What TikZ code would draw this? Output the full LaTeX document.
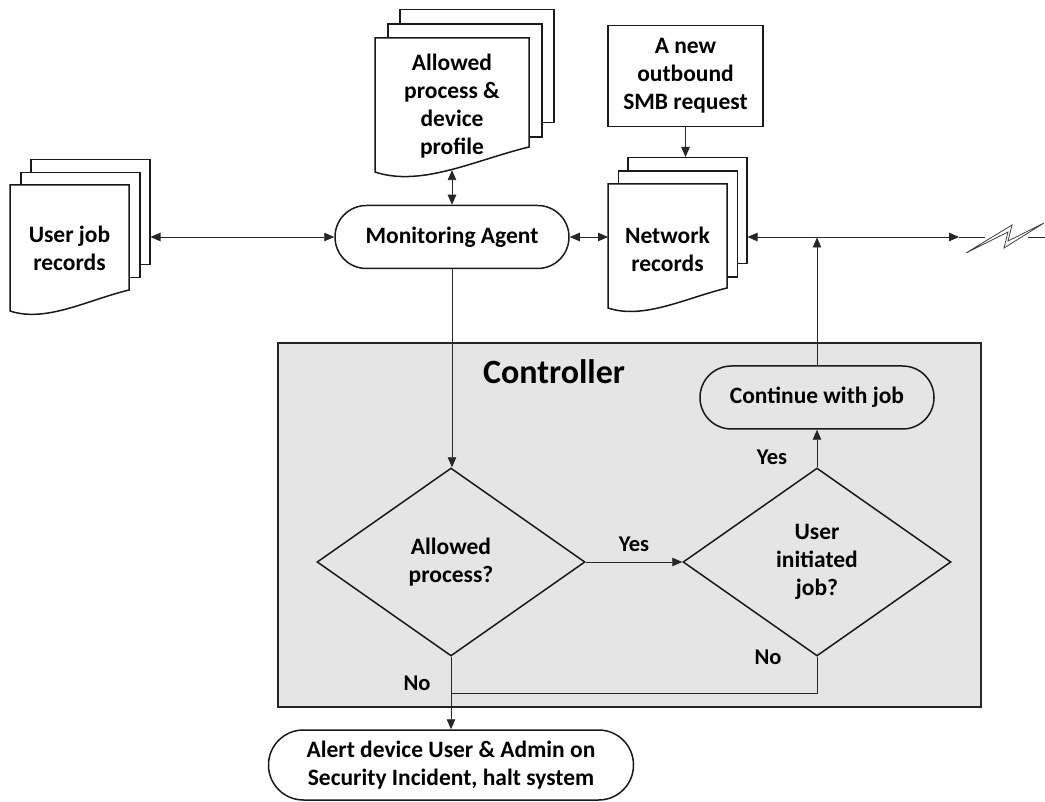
\documentclass[tikz,border=0pt]{standalone}
\usepackage{fontspec}
\setmainfont{Carlito}
\usetikzlibrary{arrows.meta,shapes.geometric}
\newcommand{\frontpage}[6]{% x0 y0 w hr hl name-of-mid-coordinate
  \draw[shp, fill=white] (#1,#2) -- ({#1+#3},#2) -- ({#1+#3},{#2+#4})
    .. controls ({#1+0.65*#3},{#2+#4+0.085*#3}) and ({#1+0.3*#3},{#2+#5+0.1*#3}) .. (#1,{#2+#5})
    coordinate[pos=0.5] (#6) -- cycle;}
\tikzset{
  txt/.style={font=\fontsize{23.5}{28}\selectfont\bfseries, align=center, inner sep=0pt},
  yn/.style={font=\fontsize{22.5}{26}\selectfont\bfseries, inner sep=0pt},
  shp/.style={draw=black!90, line width=1.5pt},
  conn/.style={draw=black!85, line width=0.9pt},
  pagebox/.style={shp, fill=white, rectangle, inner sep=0pt, anchor=north west},
  stadium/.style={shp, rectangle, inner sep=0pt, minimum width=234pt, minimum height=63pt, rounded corners=31.4pt,
    font=\fontsize{23.5}{28}\selectfont\bfseries, align=center},
  decision/.style={shp, diamond, aspect=1.4255, minimum width=268pt, minimum height=188pt, inner sep=0pt,
    font=\fontsize{23.5}{28}\selectfont\bfseries, align=center},
  >={Triangle[length=10pt,width=8.5pt]}
}
\begin{document}
\begin{tikzpicture}[x=1pt,y=-1pt]
\useasboundingbox (0,0) rectangle (1045,802);

% Controller region
\node[draw=black!85, line width=2pt, fill=black!10, minimum width=703pt, minimum height=364pt, inner sep=0pt] (ctrl) at (629.5,525) {};
\node[font=\fontsize{34}{40}\selectfont\bfseries, inner sep=0pt] (ctrlT) at (554,372) {Controller};

% User job records
\node[pagebox, minimum width=119pt, minimum height=105pt] (ujr3) at (30,159) {};
\node[pagebox, minimum width=119pt, minimum height=105pt] (ujr2) at (20,172) {};
\frontpage{10}{185}{119}{105}{126}{ujrB}
\node[txt] (ujr) at (69.5,248) {User job\\records};

% Allowed process & device profile
\node[pagebox, minimum width=154pt, minimum height=113pt] (apd3) at (399,9) {};
\node[pagebox, minimum width=154pt, minimum height=113pt] (apd2) at (387,23.5) {};
\frontpage{375}{38}{154}{109}{134}{apdB}
\node[txt] (apd) at (452,106) {Allowed\\process \&\\device\\profile};

% SMB request
\node[shp, rectangle, minimum width=155pt, minimum height=101pt, inner sep=0pt, txt] (smb) at (685.5,76) {A new\\outbound\\SMB request};

% Network records
\node[pagebox, minimum width=119pt, minimum height=106pt] (nr3) at (627,157) {};
\node[pagebox, minimum width=119pt, minimum height=106pt] (nr2) at (617.5,170.5) {};
\frontpage{608}{184}{119}{104}{124}{nrB}
\coordinate (nr1) at (608,184);
\node[txt] (nr) at (667.5,249) {Network\\records};

% Monitoring agent
\node[stadium, fill=white] (agent) at (452,237) {Monitoring Agent};

% Controller content
\node[stadium] (cont) at (817,397.5) {Continue with job};
\node[decision] (d1) at (451,562) {\rule{0pt}{14pt}Allowed\\process?};
\node[decision] (d2) at (817,562) {User\\initiated\\job?};

% Alert
\node[shp, fill=white, rectangle, inner sep=0pt, minimum width=365pt, minimum height=70pt, rounded corners=34.9pt,
  font=\fontsize{23.5}{28}\selectfont\bfseries, align=center] (alert) at (451,765)
  {Alert device User \& Admin on\\Security Incident, halt system};

% Connectors
\draw[conn,<->] (ujr3.east |- agent.west) -- (agent.west);
\draw[conn,<->] (agent.north |- apdB) -- (agent.north);
\draw[conn,<->] (agent.east) -- (agent.east -| nr1);
\draw[conn,->] (smb.south) -- (smb.south |- nr3.north);

\coordinate (arrR) at (959,237);
\coordinate (ltL) at (985,237);
\coordinate (ltR) at (1028,237);
\coordinate (edgeR) at (1045,237);
\draw[conn,<->] (nr3.east |- agent.east) -- (arrR);
\draw[conn] (arrR) -- (ltL);
\draw[draw=black!75, line width=0.8pt, fill=white] (966,253) -- (1012,225) -- (1008,241) -- (1044,223) -- (1004,248) -- (1008,232) -- cycle;
\draw[conn] (ltR) -- (edgeR);

\coordinate (nrline) at (817,237.5);
\draw[conn,->] (cont.north) -- (nrline);
\draw[conn,->] (agent.south) -- (agent.south |- d1.north);
\draw[conn,->] (d1.east) -- (d2.west) node[yn, midway, above=10pt] (yes1) {Yes};
\draw[conn,->] (d2.north) -- (cont.south);
\node[yn] (yes2) at (772,457) {Yes};
\coordinate (jn) at (d1.south |- 0,693);
\draw[conn] (d2.south) |- (jn);
\draw[conn,->] (d1.south) -- (d1.south |- alert.north);
\node[yn] (no1) at (768,657) {No};
\node[yn] (no2) at (417,683) {No};
\end{tikzpicture}
\end{document}
